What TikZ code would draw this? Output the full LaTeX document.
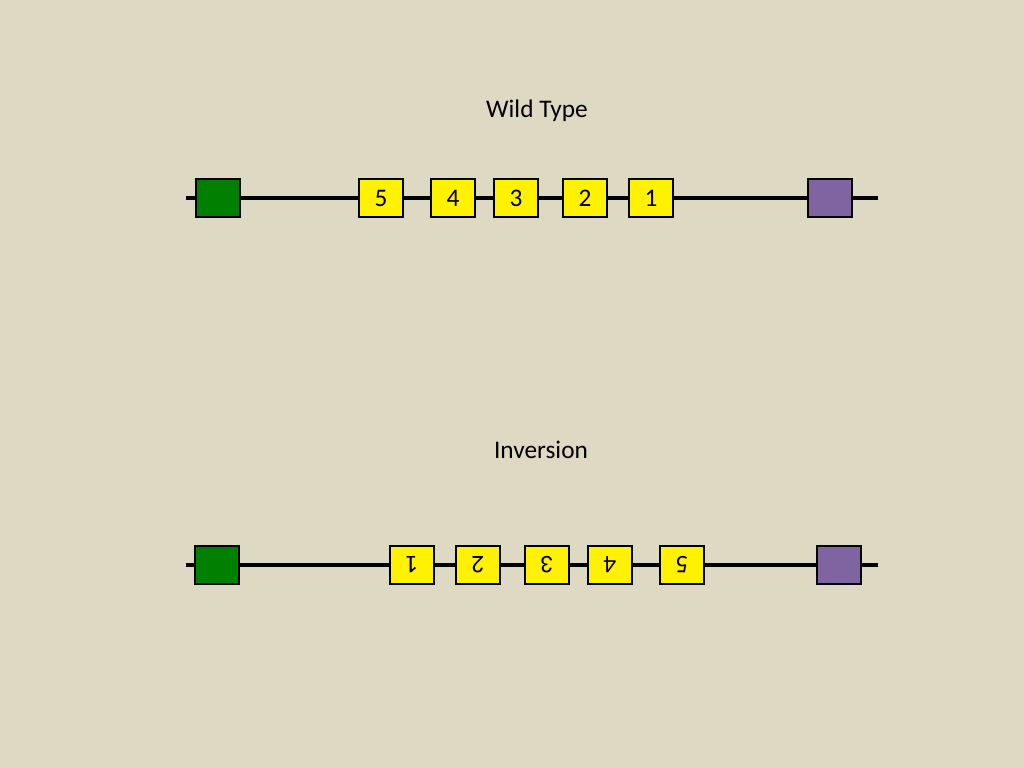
\documentclass[tikz,border=0pt]{standalone}
\usepackage{fontspec}
\setmainfont{Carlito}
\usepackage{xcolor}
\usepackage{tikz}
\usetikzlibrary{positioning}

\definecolor{slidebg}{HTML}{DDD9C3}
\definecolor{markgreen}{HTML}{007F00}
\definecolor{markpurple}{HTML}{8064A2}

\begin{document}
\begin{tikzpicture}[x=0.025cm, y=-0.025cm]
    \tikzstyle{gene} = [rectangle, draw, line width=1.6pt, fill=yellow, minimum width=1.1cm, minimum height=0.95cm, inner sep=0pt, font=\fontsize{18}{21}\selectfont]
    \tikzstyle{marker} = [gene, minimum width=1.1cm]
    \tikzstyle{chrom} = [draw, line width=2.3pt]
    \tikzstyle{title} = [font=\fontsize{18}{21}\selectfont]

    \fill [slidebg] (0,0) rectangle (1024,768);
    \useasboundingbox (0,0) rectangle (1024,768);

    % wild type
    \node [title] (wt) at (537,111) {Wild Type};
    \coordinate (wtl) at (186,198);
    \coordinate (wtr) at (878,198);
    \node [marker, fill=markgreen] (wtg) at (218,198) {};
    \node [gene] (wt5) at (381,198) {5};
    \node [gene] (wt4) at (453,198) {4};
    \node [gene] (wt3) at (516,198) {3};
    \node [gene] (wt2) at (585,198) {2};
    \node [gene] (wt1) at (651,198) {1};
    \node [marker, fill=markpurple] (wtp) at (830,198) {};
    \path [chrom] (wtl) -- (wtg) -- (wt5) -- (wt4) -- (wt3) -- (wt2) -- (wt1) -- (wtp) -- (wtr);

    % inversion
    \node [title] (inv) at (541,450) {Inversion};
    \coordinate (invl) at (186,565);
    \coordinate (invr) at (878,565);
    \node [marker, fill=markgreen] (invg) at (217,565) {};
    \node [gene, rotate=180] (inv1) at (412,565) {1};
    \node [gene, rotate=180] (inv2) at (478,565) {2};
    \node [gene, rotate=180] (inv3) at (547,565) {3};
    \node [gene, rotate=180] (inv4) at (610,565) {4};
    \node [gene, rotate=180] (inv5) at (682,565) {5};
    \node [marker, fill=markpurple] (invp) at (839,565) {};
    \path [chrom] (invl) -- (invg) -- (inv1) -- (inv2) -- (inv3) -- (inv4) -- (inv5) -- (invp) -- (invr);
\end{tikzpicture}
\end{document}
